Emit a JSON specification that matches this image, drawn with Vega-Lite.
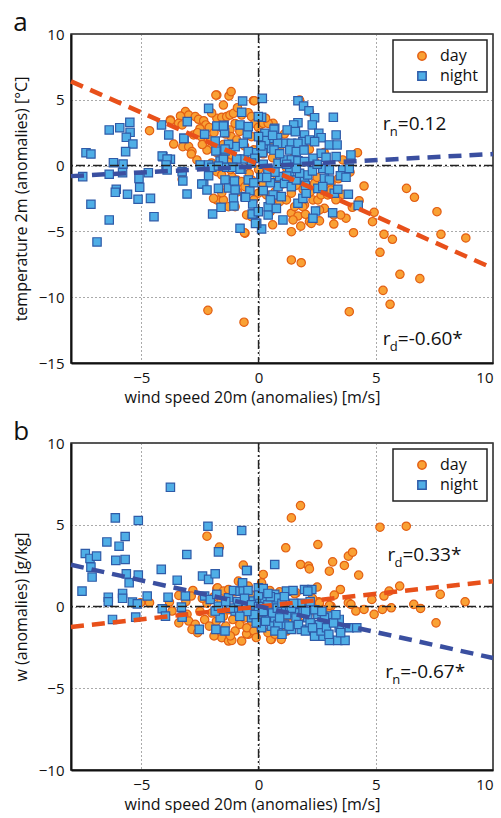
{
"$schema": "https://vega.github.io/schema/vega-lite/v6.json",
"background": "white",
"padding": {"left": 12, "top": 9, "right": 0, "bottom": 0},
"config": {
  "font": "Open Sans",
  "view": {"stroke": "#222", "strokeWidth": 1.5},
  "axis": {"labelFontSize": 15, "titleFontSize": 16, "titleFontWeight": "normal", "labelColor": "#111", "titleColor": "#111", "domainColor": "#111", "domainWidth": 2, "ticks": false, "gridColor": "#555", "gridDash": [1, 3], "gridWidth": 1, "labelPadding": 7},
  "axisY": {"titlePadding": 9},
  "legend": {"orient": "top-right", "offset": 6, "padding": 8, "strokeColor": "#222", "fillColor": "white", "labelFontSize": 16, "symbolSize": 70, "rowPadding": 4, "symbolOffset": 13, "labelOffset": 10, "cornerRadius": 0, "strokeWidth": 1.5, "labelColor": "#111"},
  "title": {"fontSize": 26, "fontWeight": "normal", "anchor": "start", "frame": "bounds", "color": "#111", "offset": -9},
  "concat": {"spacing": 12}
},
"datasets": {
  "a_pts": [
    {"p":"day","x":1.4,"y":-7.17},{"p":"day","x":1.82,"y":-7.38},{"p":"day","x":-2.16,"y":-11.0},{"p":"day","x":-0.62,"y":-11.9},{"p":"day","x":3.87,"y":-11.1},{"p":"day","x":5.18,"y":-6.59},{"p":"day","x":5.71,"y":-5.6},{"p":"day","x":6.03,"y":-8.26},{"p":"day","x":5.31,"y":-9.48},{"p":"day","x":5.61,"y":-10.54},{"p":"day","x":6.88,"y":-8.59},{"p":"day","x":8.84,"y":-5.5},
    {"p":"day","x":6.31,"y":-1.73},{"p":"day","x":6.65,"y":-2.41},{"p":"day","x":7.61,"y":-3.5},{"p":"day","x":7.78,"y":-5.22},{"p":"day","x":5.35,"y":-5.22},{"p":"day","x":4.93,"y":-3.55},{"p":"day","x":4.05,"y":-5.1},{"p":"day","x":4.5,"y":-1.55},{"p":"day","x":4.22,"y":0.98},{"p":"day","x":4.29,"y":-2.67},{"p":"day","x":3.73,"y":-4.0},{"p":"day","x":3.21,"y":-3.75},
    {"p":"day","x":1.75,"y":4.98},{"p":"day","x":2.17,"y":4.1},{"p":"day","x":4.86,"y":-4.26},{"p":"day","x":4.0,"y":-3.17},{"p":"day","x":3.5,"y":-3.75},{"p":"day","x":3.21,"y":-4.44},{"p":"day","x":2.81,"y":-3.25},{"p":"day","x":2.6,"y":-3.37},{"p":"day","x":2.32,"y":-2.61},{"p":"day","x":2.53,"y":-2.61},{"p":"day","x":3.09,"y":-1.35},{"p":"day","x":2.39,"y":-1.35},{"p":"day","x":2.67,"y":-2.23},{"p":"day","x":2.95,"y":-2.23},{"p":"day","x":1.4,"y":-5.02},{"p":"day","x":1.4,"y":-3.62},{"p":"day","x":1.68,"y":-3.83},{"p":"day","x":1.47,"y":-4.13},{"p":"day","x":2.17,"y":-4.26},{"p":"day","x":2.25,"y":-4.39},{"p":"day","x":1.96,"y":-2.99},{"p":"day","x":1.89,"y":-3.12},{"p":"day","x":0.9,"y":-2.74},{"p":"day","x":1.19,"y":-2.61},{"p":"day","x":1.54,"y":-3.12},{"p":"day","x":0.62,"y":3.21},{"p":"day","x":2.17,"y":1.24},{"p":"day","x":3.59,"y":0.43},{"p":"day","x":3.09,"y":-1.85},{"p":"day","x":1.4,"y":-2.1},
    {"p":"day","x":-1.78,"y":5.36},{"p":"day","x":-1.26,"y":5.29},{"p":"day","x":-1.17,"y":5.62},{"p":"day","x":-0.22,"y":4.93},{"p":"day","x":-3.12,"y":4.1},{"p":"day","x":-2.98,"y":3.84},{"p":"day","x":-3.33,"y":3.77},{"p":"day","x":-3.76,"y":3.47},{"p":"day","x":-3.41,"y":3.21},{"p":"day","x":-3.26,"y":3.09},{"p":"day","x":-2.7,"y":3.72},{"p":"day","x":-2.56,"y":3.52},{"p":"day","x":-2.34,"y":3.41},{"p":"day","x":-2.25,"y":3.09},{"p":"day","x":-1.78,"y":3.59},{"p":"day","x":-1.57,"y":3.67},{"p":"day","x":-1.36,"y":3.72},{"p":"day","x":-1.22,"y":3.84},{"p":"day","x":-1.07,"y":3.97},{"p":"day","x":-0.72,"y":3.84},{"p":"day","x":-0.44,"y":4.02},{"p":"day","x":-0.3,"y":3.72},{"p":"day","x":-0.16,"y":3.21},{"p":"day","x":-0.01,"y":2.91},{"p":"day","x":0.2,"y":3.21},{"p":"day","x":0.41,"y":3.21},
    {"p":"day","x":-3.62,"y":1.64},{"p":"day","x":-3.23,"y":1.44},{"p":"day","x":-2.98,"y":1.44},{"p":"day","x":-2.84,"y":1.06},{"p":"day","x":-2.63,"y":0.43},{"p":"day","x":-2.77,"y":2.33},{"p":"day","x":-2.44,"y":2.2},{"p":"day","x":-2.13,"y":2.0},{"p":"day","x":-2.06,"y":1.31},{"p":"day","x":-2.2,"y":1.18},{"p":"day","x":-1.22,"y":2.71},{"p":"day","x":-1.17,"y":2.2},{"p":"day","x":-0.93,"y":1.95},{"p":"day","x":-1.14,"y":0.81},{"p":"day","x":-0.97,"y":0.43},{"p":"day","x":-1.28,"y":0.22},{"p":"day","x":-1.78,"y":-0.46},{"p":"day","x":-1.57,"y":-0.71},{"p":"day","x":-1.14,"y":-0.84},{"p":"day","x":-0.93,"y":-1.09},{"p":"day","x":-0.72,"y":-1.22},{"p":"day","x":-0.58,"y":-1.6},{"p":"day","x":-0.3,"y":-1.09},{"p":"day","x":-1.78,"y":-2.61},{"p":"day","x":-1.5,"y":-2.61},{"p":"day","x":-1.28,"y":-3.12},{"p":"day","x":-1.0,"y":-3.12},{"p":"day","x":-0.51,"y":-3.75},{"p":"day","x":-0.3,"y":-3.88},{"p":"day","x":-0.58,"y":-5.14},{"p":"day","x":-0.01,"y":-2.1},{"p":"day","x":0.34,"y":-2.23},
    {"p":"day","x":-4.65,"y":2.65},{"p":"day","x":-3.76,"y":3.41},{"p":"day","x":-2.87,"y":0.88},{"p":"day","x":-3.26,"y":-1.04},{"p":"day","x":-1.82,"y":5.36},{"p":"day","x":-0.18,"y":4.93},{"p":"day","x":-0.6,"y":-5.1},{"p":"day","x":-1.92,"y":-2.49},{"p":"day","x":-1.57,"y":-2.06},
    {"p":"day","x":-2.5,"y":2.8},{"p":"day","x":-2.1,"y":2.9},{"p":"day","x":-1.9,"y":2.5},{"p":"day","x":-1.6,"y":2.9},{"p":"day","x":-1.4,"y":2.4},{"p":"day","x":-1.0,"y":3.2},{"p":"day","x":-0.8,"y":2.6},{"p":"day","x":-0.5,"y":2.9},{"p":"day","x":-0.3,"y":2.2},{"p":"day","x":0.1,"y":2.5},{"p":"day","x":0.3,"y":2.0},{"p":"day","x":0.5,"y":1.6},{"p":"day","x":-0.6,"y":1.5},{"p":"day","x":-0.2,"y":1.2},{"p":"day","x":0.2,"y":0.9},{"p":"day","x":0.6,"y":0.6},{"p":"day","x":-1.5,"y":1.6},{"p":"day","x":-1.8,"y":1.0},{"p":"day","x":-2.4,"y":1.6},{"p":"day","x":-2.6,"y":2.5},{"p":"day","x":-0.4,"y":0.3},{"p":"day","x":0.0,"y":-0.3},{"p":"day","x":0.4,"y":-0.5},{"p":"day","x":0.8,"y":-0.9},{"p":"day","x":1.0,"y":-1.4},{"p":"day","x":1.3,"y":-0.9},{"p":"day","x":1.6,"y":-1.5},{"p":"day","x":1.9,"y":-1.8},{"p":"day","x":2.2,"y":-2.0},{"p":"day","x":0.7,"y":-2.0},{"p":"day","x":0.2,"y":-1.4},{"p":"day","x":-0.4,"y":-0.6},{"p":"day","x":-1.2,"y":-0.3},{"p":"day","x":-2.0,"y":0.2},{"p":"day","x":-1.6,"y":0.6},{"p":"day","x":0.9,"y":0.2},{"p":"day","x":1.2,"y":-0.2},{"p":"day","x":1.8,"y":-0.6},{"p":"day","x":2.5,"y":-0.9},{"p":"day","x":3.3,"y":-2.6},{"p":"day","x":3.6,"y":-2.2},{"p":"day","x":2.0,"y":-3.7},{"p":"day","x":0.5,"y":-3.5},{"p":"day","x":-0.2,"y":-2.6},{"p":"day","x":-0.9,"y":-2.0},{"p":"day","x":-1.3,"y":-1.6},{"p":"day","x":0.9,"y":1.4},{"p":"day","x":1.1,"y":2.4},{"p":"day","x":0.3,"y":3.6},{"p":"day","x":-0.9,"y":4.4},{"p":"day","x":-1.5,"y":4.6},{"p":"day","x":-2.0,"y":4.0},{"p":"day","x":1.5,"y":0.6},{"p":"day","x":2.4,"y":0.3},{"p":"day","x":2.8,"y":1.0},{"p":"day","x":3.9,"y":-0.5},{"p":"day","x":3.4,"y":-1.0},{"p":"day","x":0.6,"y":-4.5},{"p":"day","x":1.8,"y":-4.6},{"p":"day","x":2.6,"y":-4.2},
    {"p":"night","x":-6.37,"y":2.71},{"p":"night","x":-5.92,"y":2.88},{"p":"night","x":-5.49,"y":3.29},{"p":"night","x":-5.48,"y":2.53},{"p":"night","x":-5.64,"y":2.15},{"p":"night","x":-5.36,"y":1.64},{"p":"night","x":-5.67,"y":1.06},{"p":"night","x":-7.36,"y":0.98},{"p":"night","x":-7.15,"y":0.88},{"p":"night","x":-6.19,"y":0.22},{"p":"night","x":-5.78,"y":0.12},{"p":"night","x":-6.37,"y":-0.66},{"p":"night","x":-7.5,"y":-0.84},{"p":"night","x":-5.8,"y":-0.54},{"p":"night","x":-5.1,"y":-0.97},{"p":"night","x":-6.07,"y":-1.8},{"p":"night","x":-6.11,"y":-2.03},{"p":"night","x":-5.59,"y":-2.18},{"p":"night","x":-5.07,"y":-1.65},{"p":"night","x":-5.14,"y":-2.56},{"p":"night","x":-4.61,"y":-2.49},{"p":"night","x":-7.15,"y":-2.94},{"p":"night","x":-6.37,"y":-4.13},{"p":"night","x":-6.89,"y":-5.8},{"p":"night","x":-4.46,"y":-3.88},{"p":"night","x":-4.7,"y":-0.54},{"p":"night","x":-4.08,"y":0.68},{"p":"night","x":-3.93,"y":0.05},{"p":"night","x":-3.76,"y":0.48},{"p":"night","x":-3.83,"y":2.33},{"p":"night","x":-4.14,"y":3.09},{"p":"night","x":-3.04,"y":3.34},{"p":"night","x":-3.18,"y":2.07},{"p":"night","x":-3.05,"y":-2.16},{"p":"night","x":-2.49,"y":0.05},{"p":"night","x":-2.13,"y":4.35},{"p":"night","x":-2.13,"y":0.05},{"p":"night","x":-2.34,"y":-1.4},{"p":"night","x":-2.13,"y":-0.77},{"p":"night","x":-1.96,"y":-3.68},{"p":"night","x":-1.6,"y":-3.17},{"p":"night","x":-1.78,"y":3.01},{"p":"night","x":-1.85,"y":1.87},{"p":"night","x":-1.82,"y":1.11},{"p":"night","x":-1.43,"y":1.11},{"p":"night","x":-1.47,"y":3.06},{"p":"night","x":-1.45,"y":2.5},{"p":"night","x":-1.43,"y":-1.09},{"p":"night","x":-1.28,"y":-1.7},{"p":"night","x":-1.0,"y":-1.85},{"p":"night","x":-1.07,"y":-2.49},{"p":"night","x":-1.05,"y":-3.07},{"p":"night","x":-0.79,"y":-4.76},{"p":"night","x":-0.68,"y":4.91},{"p":"night","x":-0.72,"y":4.05},{"p":"night","x":-0.79,"y":3.09},{"p":"night","x":-0.48,"y":2.4},{"p":"night","x":-0.65,"y":1.69},{"p":"night","x":-1.0,"y":1.44},{"p":"night","x":-0.62,"y":0.5},{"p":"night","x":-0.93,"y":0.5},{"p":"night","x":-0.72,"y":-0.28},{"p":"night","x":-0.44,"y":-1.09},{"p":"night","x":-0.58,"y":-2.36},{"p":"night","x":-0.25,"y":-2.92},{"p":"night","x":-0.22,"y":-3.68},{"p":"night","x":0.13,"y":3.67},{"p":"night","x":-0.01,"y":3.72},{"p":"night","x":0.16,"y":5.11},{"p":"night","x":0.13,"y":-4.82},{"p":"night","x":-0.08,"y":-4.38},{"p":"night","x":0.41,"y":-3.75},{"p":"night","x":0.41,"y":-3.12},{"p":"night","x":0.69,"y":2.83},{"p":"night","x":0.55,"y":2.07},
    {"p":"night","x":-1.5,"y":3.01},{"p":"night","x":-0.44,"y":2.96},{"p":"night","x":-2.3,"y":2.38},{"p":"night","x":0.81,"y":2.12},{"p":"night","x":-3.19,"y":2.07},{"p":"night","x":-1.28,"y":1.62},{"p":"night","x":-1.43,"y":1.26},{"p":"night","x":0.27,"y":1.57},{"p":"night","x":0.55,"y":1.31},{"p":"night","x":-0.08,"y":0.98},{"p":"night","x":0.17,"y":0.98},{"p":"night","x":-0.44,"y":1.06},{"p":"night","x":-1.64,"y":0.35},{"p":"night","x":-1.5,"y":0.48},{"p":"night","x":-0.16,"y":0.55},{"p":"night","x":-4.11,"y":0.73},{"p":"night","x":-3.9,"y":0.5},{"p":"night","x":-3.94,"y":0.05},{"p":"night","x":-3.9,"y":-0.33},{"p":"night","x":-3.26,"y":-0.46},{"p":"night","x":-3.23,"y":-1.17},{"p":"night","x":-1.99,"y":-0.13},{"p":"night","x":-1.71,"y":-0.03},{"p":"night","x":-1.36,"y":-0.13},{"p":"night","x":-1.1,"y":-0.13},{"p":"night","x":-0.79,"y":-0.28},{"p":"night","x":-1.03,"y":-1.17},{"p":"night","x":-2.42,"y":-1.4},{"p":"night","x":-2.2,"y":-1.85},{"p":"night","x":-1.71,"y":-1.73},{"p":"night","x":-0.37,"y":-1.91},{"p":"night","x":-0.55,"y":-2.41},{"p":"night","x":-0.27,"y":-3.68},{"p":"night","x":-0.01,"y":-3.5},{"p":"night","x":-0.13,"y":-4.39},{"p":"night","x":0.27,"y":2.45},{"p":"night","x":0.83,"y":0.17},{"p":"night","x":0.9,"y":-0.84},{"p":"night","x":0.83,"y":-1.6},{"p":"night","x":0.62,"y":-2.23},{"p":"night","x":0.76,"y":-3.25},
    {"p":"night","x":1.68,"y":4.93},{"p":"night","x":1.92,"y":4.53},{"p":"night","x":2.15,"y":4.17},{"p":"night","x":2.39,"y":3.64},{"p":"night","x":3.19,"y":3.67},{"p":"night","x":2.29,"y":3.09},{"p":"night","x":1.68,"y":3.26},{"p":"night","x":1.5,"y":3.09},{"p":"night","x":1.22,"y":2.71},{"p":"night","x":1.57,"y":2.58},{"p":"night","x":0.66,"y":2.76},{"p":"night","x":2.57,"y":2.45},{"p":"night","x":2.67,"y":2.12},{"p":"night","x":3.31,"y":2.33},{"p":"night","x":1.96,"y":2.33},{"p":"night","x":1.89,"y":1.82},{"p":"night","x":2.17,"y":1.95},{"p":"night","x":2.39,"y":1.82},{"p":"night","x":3.02,"y":1.57},{"p":"night","x":3.35,"y":1.57},{"p":"night","x":1.11,"y":1.69},{"p":"night","x":1.4,"y":1.69},{"p":"night","x":1.68,"y":1.69},{"p":"night","x":0.81,"y":1.69},{"p":"night","x":0.66,"y":1.18},{"p":"night","x":1.33,"y":1.18},{"p":"night","x":1.61,"y":1.06},{"p":"night","x":1.94,"y":1.18},{"p":"night","x":2.67,"y":0.93},{"p":"night","x":2.88,"y":0.63},{"p":"night","x":3.31,"y":0.68},{"p":"night","x":3.94,"y":0.81},{"p":"night","x":2.32,"y":0.55},{"p":"night","x":1.11,"y":0.43},{"p":"night","x":1.4,"y":0.43},{"p":"night","x":1.68,"y":0.37},{"p":"night","x":1.96,"y":0.3},{"p":"night","x":2.74,"y":-0.21},{"p":"night","x":3.02,"y":-0.33},{"p":"night","x":3.59,"y":-0.33},{"p":"night","x":3.87,"y":-0.21},{"p":"night","x":3.49,"y":-0.77},{"p":"night","x":3.73,"y":-0.89},{"p":"night","x":2.81,"y":-0.97},{"p":"night","x":3.02,"y":-1.09},{"p":"night","x":2.53,"y":-1.73},{"p":"night","x":2.74,"y":-1.6},{"p":"night","x":3.23,"y":-2.1},{"p":"night","x":3.38,"y":-1.8},{"p":"night","x":3.83,"y":-2.18},{"p":"night","x":4.25,"y":-3.02},{"p":"night","x":3.16,"y":-3.58},{"p":"night","x":2.43,"y":-3.45},{"p":"night","x":2.32,"y":-4.0},{"p":"night","x":1.68,"y":-2.86},{"p":"night","x":1.89,"y":-2.49},{"p":"night","x":2.03,"y":-2.1},{"p":"night","x":1.04,"y":-4.13},{"p":"night","x":1.11,"y":-1.35},{"p":"night","x":1.4,"y":-1.6},{"p":"night","x":1.61,"y":-1.09},{"p":"night","x":0.97,"y":-2.36},{"p":"night","x":1.96,"y":-1.09},{"p":"night","x":2.1,"y":-0.71},{"p":"night","x":1.75,"y":-0.58},{"p":"night","x":1.33,"y":-0.46},{"p":"night","x":1.61,"y":-0.21},
    {"p":"night","x":0.2,"y":0.1},{"p":"night","x":0.4,"y":-0.3},{"p":"night","x":0.1,"y":-0.9},{"p":"night","x":0.5,"y":-1.3},{"p":"night","x":0.3,"y":1.9},{"p":"night","x":0.6,"y":2.3},{"p":"night","x":0.1,"y":1.5},{"p":"night","x":0.9,"y":0.9},{"p":"night","x":1.2,"y":0.1},{"p":"night","x":0.2,"y":-1.9},{"p":"night","x":0.5,"y":-2.6},{"p":"night","x":-0.3,"y":0.2},{"p":"night","x":0.7,"y":-0.5},{"p":"night","x":1.2,"y":-0.8},{"p":"night","x":2.3,"y":-0.4},{"p":"night","x":2.5,"y":0.1},{"p":"night","x":2.0,"y":-1.5},{"p":"night","x":0.0,"y":2.2},{"p":"night","x":-0.2,"y":-1.3},{"p":"night","x":0.35,"y":-0.9}
  ],
  "b_pts": [
    {"p":"day","x":1.4,"y":5.42},{"p":"day","x":1.79,"y":6.17},{"p":"day","x":5.18,"y":4.85},{"p":"day","x":6.3,"y":4.91},{"p":"day","x":1.16,"y":3.59},{"p":"day","x":2.53,"y":3.79},{"p":"day","x":1.79,"y":2.57},{"p":"day","x":2.13,"y":2.47},{"p":"day","x":2.17,"y":2.3},{"p":"day","x":3.16,"y":2.73},{"p":"day","x":3.02,"y":2.16},{"p":"day","x":3.66,"y":2.51},{"p":"day","x":3.83,"y":3.08},{"p":"day","x":4.01,"y":3.32},{"p":"day","x":4.27,"y":1.92},{"p":"day","x":3.49,"y":1.04},{"p":"day","x":3.23,"y":0.7},{"p":"day","x":2.56,"y":0.29},{"p":"day","x":3.09,"y":0.02},{"p":"day","x":2.92,"y":-0.18},{"p":"day","x":2.74,"y":-0.18},{"p":"day","x":3.83,"y":0.23},{"p":"day","x":3.94,"y":0.13},{"p":"day","x":4.15,"y":-0.28},{"p":"day","x":4.5,"y":-0.18},{"p":"day","x":4.93,"y":-0.48},{"p":"day","x":4.83,"y":0.43},{"p":"day","x":5.28,"y":-0.18},{"p":"day","x":5.66,"y":-0.08},{"p":"day","x":5.35,"y":0.64},{"p":"day","x":5.57,"y":0.94},{"p":"day","x":6.02,"y":1.25},{"p":"day","x":6.62,"y":0.13},{"p":"day","x":6.91,"y":-0.12},{"p":"day","x":7.57,"y":-1.0},{"p":"day","x":7.75,"y":0.74},{"p":"day","x":8.81,"y":0.29},{"p":"day","x":2.5,"y":1.19},{"p":"day","x":1.61,"y":0.84},{"p":"day","x":0.55,"y":-2.01},{"p":"day","x":0.97,"y":-2.01},{"p":"day","x":0.2,"y":1.96},{"p":"day","x":0.13,"y":1.35},{"p":"day","x":-0.44,"y":-1.7},{"p":"day","x":2.17,"y":-1.4},{"p":"day","x":1.54,"y":0.78},{"p":"day","x":2.6,"y":0.23},{"p":"day","x":3.02,"y":0.07},
    {"p":"day","x":-2.2,"y":4.3},{"p":"day","x":-1.67,"y":3.63},{"p":"day","x":-0.65,"y":2.53},{"p":"day","x":-2.8,"y":0.98},{"p":"day","x":-2.87,"y":0.64},{"p":"day","x":-3.4,"y":0.68},{"p":"day","x":-3.8,"y":0.27},{"p":"day","x":-4.65,"y":0.23},{"p":"day","x":-3.69,"y":-0.28},{"p":"day","x":-3.26,"y":-0.59},{"p":"day","x":-3.05,"y":-0.48},{"p":"day","x":-3.4,"y":-1.0},{"p":"day","x":-2.98,"y":-0.89},{"p":"day","x":-2.7,"y":-1.09},{"p":"day","x":-2.84,"y":-1.4},{"p":"day","x":-1.57,"y":-1.91},{"p":"day","x":-1.28,"y":-2.11},{"p":"day","x":-1.14,"y":-2.07},{"p":"day","x":-0.72,"y":-2.11},{"p":"day","x":-0.51,"y":-1.67},{"p":"day","x":0.52,"y":-2.01},{"p":"day","x":-1.78,"y":1.1},{"p":"day","x":-0.86,"y":1.55},{"p":"day","x":-0.65,"y":1.25},{"p":"day","x":0.13,"y":1.45},{"p":"day","x":0.2,"y":0.94},{"p":"day","x":0.48,"y":0.98},{"p":"day","x":0.3,"y":0.49},{"p":"day","x":-5.03,"y":0.23},{"p":"day","x":-1.75,"y":1.14},{"p":"day","x":-1.5,"y":0.94},{"p":"day","x":-1.28,"y":1.04},{"p":"day","x":-1.0,"y":0.9},{"p":"day","x":-0.72,"y":1.45},{"p":"day","x":-0.44,"y":1.25},
    {"p":"day","x":-2.5,"y":-0.3},{"p":"day","x":-2.3,"y":-0.8},{"p":"day","x":-2.1,"y":-1.2},{"p":"day","x":-2.0,"y":-0.4},{"p":"day","x":-1.8,"y":-0.9},{"p":"day","x":-1.7,"y":-1.5},{"p":"day","x":-1.5,"y":-0.6},{"p":"day","x":-1.4,"y":-1.2},{"p":"day","x":-1.3,"y":-0.2},{"p":"day","x":-1.1,"y":-0.8},{"p":"day","x":-1.0,"y":-1.5},{"p":"day","x":-0.9,"y":-0.4},{"p":"day","x":-0.8,"y":-1.1},{"p":"day","x":-0.6,"y":-0.7},{"p":"day","x":-0.5,"y":-1.3},{"p":"day","x":-0.4,"y":-0.2},{"p":"day","x":-0.3,"y":-0.9},{"p":"day","x":-0.2,"y":-1.5},{"p":"day","x":0.0,"y":-0.5},{"p":"day","x":0.1,"y":-1.1},{"p":"day","x":0.3,"y":-0.3},{"p":"day","x":0.4,"y":-1.6},{"p":"day","x":0.6,"y":-0.8},{"p":"day","x":0.8,"y":-0.3},{"p":"day","x":0.9,"y":-1.2},{"p":"day","x":1.1,"y":-0.6},{"p":"day","x":1.3,"y":-1.0},{"p":"day","x":1.5,"y":-0.2},{"p":"day","x":1.7,"y":-0.9},{"p":"day","x":1.9,"y":0.1},{"p":"day","x":2.1,"y":-0.5},{"p":"day","x":2.3,"y":0.5},{"p":"day","x":-2.2,"y":0.2},{"p":"day","x":-1.6,"y":0.3},{"p":"day","x":-0.7,"y":0.2},{"p":"day","x":0.5,"y":0.2},{"p":"day","x":1.0,"y":0.4},{"p":"day","x":-2.6,"y":-1.6},{"p":"day","x":-1.9,"y":-1.8},{"p":"day","x":-0.1,"y":-1.9},{"p":"day","x":0.7,"y":-1.7},{"p":"day","x":1.2,"y":-1.5},{"p":"day","x":-1.2,"y":-1.8},{"p":"day","x":-2.4,"y":0.5},{"p":"day","x":-3.1,"y":0.3},{"p":"day","x":-0.3,"y":0.7},{"p":"day","x":0.9,"y":0.9},{"p":"day","x":-1.9,"y":0.6},
    {"p":"night","x":-3.76,"y":7.29},{"p":"night","x":-6.11,"y":5.42},{"p":"night","x":-5.13,"y":5.26},{"p":"night","x":-2.16,"y":4.91},{"p":"night","x":-0.72,"y":4.65},{"p":"night","x":-6.47,"y":3.95},{"p":"night","x":-5.69,"y":4.28},{"p":"night","x":-5.95,"y":3.69},{"p":"night","x":-7.39,"y":3.24},{"p":"night","x":-7.19,"y":2.94},{"p":"night","x":-6.91,"y":3.08},{"p":"night","x":-6.09,"y":2.82},{"p":"night","x":-5.69,"y":2.88},{"p":"night","x":-7.15,"y":2.41},{"p":"night","x":-7.1,"y":1.8},{"p":"night","x":-5.64,"y":2.0},{"p":"night","x":-5.13,"y":1.92},{"p":"night","x":-5.52,"y":1.45},{"p":"night","x":-4.15,"y":2.27},{"p":"night","x":-3.47,"y":1.61},{"p":"night","x":-3.06,"y":3.18},{"p":"night","x":-1.71,"y":3.34},{"p":"night","x":-7.53,"y":0.94},{"p":"night","x":-6.41,"y":0.57},{"p":"night","x":-6.41,"y":0.29},{"p":"night","x":-5.8,"y":0.8},{"p":"night","x":-5.8,"y":0.5},{"p":"night","x":-5.38,"y":0.27},{"p":"night","x":-5.17,"y":0.16},{"p":"night","x":-4.75,"y":0.64},{"p":"night","x":-6.23,"y":-0.79},{"p":"night","x":-5.24,"y":-0.65},{"p":"night","x":-4.11,"y":-0.14},{"p":"night","x":-3.97,"y":-0.59},{"p":"night","x":-3.86,"y":0.57},{"p":"night","x":-3.29,"y":-0.04},{"p":"night","x":-3.26,"y":-0.65},{"p":"night","x":-2.53,"y":-1.4},{"p":"night","x":-2.39,"y":1.86},{"p":"night","x":-2.13,"y":1.66},{"p":"night","x":-1.85,"y":2.0},{"p":"night","x":-2.3,"y":0.64},{"p":"night","x":-2.06,"y":0.43},{"p":"night","x":-1.78,"y":0.74},{"p":"night","x":-1.28,"y":0.53},{"p":"night","x":-1.07,"y":0.98},{"p":"night","x":-0.79,"y":0.94},{"p":"night","x":-1.82,"y":-1.4},{"p":"night","x":-1.43,"y":-1.5},{"p":"night","x":-1.64,"y":-0.69},{"p":"night","x":-1.85,"y":-0.28},{"p":"night","x":-1.71,"y":0.02},{"p":"night","x":-1.0,"y":-0.28},{"p":"night","x":-0.72,"y":-0.28},{"p":"night","x":-0.51,"y":-0.12},{"p":"night","x":-0.68,"y":1.45},{"p":"night","x":-0.48,"y":2.2},{"p":"night","x":-0.65,"y":0.94},{"p":"night","x":-0.45,"y":0.98},{"p":"night","x":-0.01,"y":1.14},{"p":"night","x":0.13,"y":-1.2},{"p":"night","x":0.69,"y":2.57},{"p":"night","x":-0.22,"y":0.33},{"p":"night","x":-0.01,"y":0.43},{"p":"night","x":0.27,"y":0.43},{"p":"night","x":0.55,"y":0.33},{"p":"night","x":0.69,"y":0.74},{"p":"night","x":0.34,"y":-0.69},{"p":"night","x":0.69,"y":-0.73},{"p":"night","x":0.55,"y":-1.2},{"p":"night","x":0.83,"y":-1.26},{"p":"night","x":-0.51,"y":2.2},{"p":"night","x":-3.12,"y":0.64},
    {"p":"night","x":1.96,"y":1.04},{"p":"night","x":2.27,"y":1.04},{"p":"night","x":2.74,"y":-1.81},{"p":"night","x":3.02,"y":-2.07},{"p":"night","x":3.38,"y":-2.07},{"p":"night","x":3.69,"y":-2.07},{"p":"night","x":3.87,"y":-1.3},{"p":"night","x":4.19,"y":-1.3},{"p":"night","x":3.44,"y":-1.3},{"p":"night","x":3.09,"y":-0.59},{"p":"night","x":3.44,"y":-0.79},{"p":"night","x":2.39,"y":-1.81},{"p":"night","x":2.67,"y":-1.5},{"p":"night","x":1.82,"y":-1.4},{"p":"night","x":1.4,"y":-1.4},{"p":"night","x":1.11,"y":-1.09},{"p":"night","x":0.83,"y":-1.09},{"p":"night","x":1.89,"y":-0.28},{"p":"night","x":2.1,"y":-0.69},{"p":"night","x":2.53,"y":-0.48},{"p":"night","x":2.81,"y":-0.69},{"p":"night","x":1.26,"y":-0.08},{"p":"night","x":1.54,"y":-0.38},{"p":"night","x":0.97,"y":-0.28},{"p":"night","x":0.69,"y":0.13},{"p":"night","x":0.83,"y":0.53},{"p":"night","x":1.19,"y":0.94},{"p":"night","x":1.47,"y":0.98},{"p":"night","x":0.13,"y":-0.89},{"p":"night","x":0.13,"y":-1.3},{"p":"night","x":-0.3,"y":-0.69},{"p":"night","x":2.1,"y":0.94},
    {"p":"night","x":-0.9,"y":0.3},{"p":"night","x":-0.6,"y":0.5},{"p":"night","x":-0.3,"y":0.1},{"p":"night","x":0.0,"y":0.0},{"p":"night","x":0.2,"y":-0.3},{"p":"night","x":0.4,"y":0.1},{"p":"night","x":0.6,"y":-0.4},{"p":"night","x":0.8,"y":-0.1},{"p":"night","x":1.0,"y":0.2},{"p":"night","x":1.2,"y":-0.5},{"p":"night","x":1.4,"y":-0.1},{"p":"night","x":1.6,"y":-0.7},{"p":"night","x":1.8,"y":0.2},{"p":"night","x":2.0,"y":-0.3},{"p":"night","x":2.2,"y":-1.0},{"p":"night","x":2.4,"y":-0.2},{"p":"night","x":2.6,"y":-1.1},{"p":"night","x":2.9,"y":-1.3},{"p":"night","x":3.2,"y":-1.0},{"p":"night","x":3.5,"y":-1.6},{"p":"night","x":0.3,"y":-0.9},{"p":"night","x":0.9,"y":-0.7},{"p":"night","x":1.3,"y":-1.2},{"p":"night","x":1.7,"y":-1.1},{"p":"night","x":2.0,"y":-1.5},{"p":"night","x":2.3,"y":-1.3},{"p":"night","x":-0.2,"y":-0.5},{"p":"night","x":-0.5,"y":-0.3},{"p":"night","x":-1.2,"y":-0.1},{"p":"night","x":-1.4,"y":0.3},{"p":"night","x":0.5,"y":0.6},{"p":"night","x":1.1,"y":0.6},{"p":"night","x":0.0,"y":0.7},{"p":"night","x":-0.1,"y":-1.0},{"p":"night","x":0.7,"y":-1.5},{"p":"night","x":1.0,"y":-1.7},{"p":"night","x":3.0,"y":-1.7},{"p":"night","x":3.3,"y":-0.5},{"p":"night","x":2.7,"y":-0.3},{"p":"night","x":0.2,"y":1.1},{"p":"night","x":0.4,"y":0.8},{"p":"night","x":-0.8,"y":-0.6},{"p":"night","x":1.5,"y":0.2},{"p":"night","x":2.2,"y":0.3}
  ],
  "a_lines": [
    {"p":"day","x":-8,"y":6.4},{"p":"day","x":10,"y":-7.8},
    {"p":"night","x":-8,"y":-0.8},{"p":"night","x":10,"y":0.88}
  ],
  "b_lines": [
    {"p":"day","x":-8,"y":-1.25},{"p":"day","x":10,"y":1.55},
    {"p":"night","x":-8,"y":2.55},{"p":"night","x":10,"y":-3.15}
  ]
},
"vconcat": [
  {
    "title": {"text": "a"},
    "width": 422,
    "height": 329,
    "layer": [
      {"data": {"name": "a_pts"}, "mark": {"type": "point", "filled": true, "size": 70, "strokeWidth": 1.2, "opacity": 1},
       "encoding": {
         "x": {"field": "x", "type": "quantitative", "scale": {"domain": [-8, 10], "nice": false, "zero": false}, "axis": {"values": [-5, 0, 5, 10], "title": "wind speed 20m (anomalies) [m/s]", "titleX": 181}},
         "y": {"field": "y", "type": "quantitative", "scale": {"domain": [-15, 10], "nice": false}, "axis": {"values": [-15, -10, -5, 0, 5, 10], "title": "temperature 2m (anomalies) [°C]"}},
         "fill": {"field": "p", "type": "nominal", "scale": {"domain": ["day", "night"], "range": ["#F9A134", "#4FAEE6"]}, "title": null},
         "stroke": {"field": "p", "type": "nominal", "scale": {"domain": ["day", "night"], "range": ["#E35F14", "#2F5BA8"]}, "title": null},
         "shape": {"field": "p", "type": "nominal", "scale": {"domain": ["day", "night"], "range": ["circle", "square"]}, "title": null}
       }},
      {"data": {"values": [{}]}, "mark": {"type": "rule", "color": "#222", "strokeWidth": 1.5, "strokeDash": [9, 3, 2, 3]}, "encoding": {"x": {"datum": 0, "type": "quantitative"}}},
      {"data": {"values": [{}]}, "mark": {"type": "rule", "color": "#222", "strokeWidth": 1.5, "strokeDash": [9, 3, 2, 3]}, "encoding": {"y": {"datum": 0, "type": "quantitative"}}},
      {"data": {"name": "a_lines"}, "transform": [{"filter": "datum.p === 'day'"}], "mark": {"type": "line", "color": "#E8501A", "strokeWidth": 4.5, "strokeDash": [13, 8]}, "encoding": {"x": {"field": "x", "type": "quantitative"}, "y": {"field": "y", "type": "quantitative"}}},
      {"data": {"name": "a_lines"}, "transform": [{"filter": "datum.p === 'night'"}], "mark": {"type": "line", "color": "#3A4FA0", "strokeWidth": 4.5, "strokeDash": [13, 8]}, "encoding": {"x": {"field": "x", "type": "quantitative"}, "y": {"field": "y", "type": "quantitative"}}},
      {"data": {"values": [{}]}, "mark": {"type": "text", "text": "r", "fontSize": 19, "align": "left", "baseline": "alphabetic", "color": "#111"}, "encoding": {"x": {"datum": 5.3, "type": "quantitative"}, "y": {"datum": 2.7, "type": "quantitative"}}},
      {"data": {"values": [{}]}, "mark": {"type": "text", "text": "n", "fontSize": 13, "align": "left", "baseline": "alphabetic", "dx": 7, "dy": 6, "color": "#111"}, "encoding": {"x": {"datum": 5.3, "type": "quantitative"}, "y": {"datum": 2.7, "type": "quantitative"}}},
      {"data": {"values": [{}]}, "mark": {"type": "text", "text": "=0.12", "fontSize": 19, "align": "left", "baseline": "alphabetic", "dx": 15, "color": "#111"}, "encoding": {"x": {"datum": 5.3, "type": "quantitative"}, "y": {"datum": 2.7, "type": "quantitative"}}},
      {"data": {"values": [{}]}, "mark": {"type": "text", "text": "r", "fontSize": 19, "align": "left", "baseline": "alphabetic", "color": "#111"}, "encoding": {"x": {"datum": 5.3, "type": "quantitative"}, "y": {"datum": -13.6, "type": "quantitative"}}},
      {"data": {"values": [{}]}, "mark": {"type": "text", "text": "d", "fontSize": 13, "align": "left", "baseline": "alphabetic", "dx": 7, "dy": 6, "color": "#111"}, "encoding": {"x": {"datum": 5.3, "type": "quantitative"}, "y": {"datum": -13.6, "type": "quantitative"}}},
      {"data": {"values": [{}]}, "mark": {"type": "text", "text": "=-0.60*", "fontSize": 19, "align": "left", "baseline": "alphabetic", "dx": 15, "color": "#111"}, "encoding": {"x": {"datum": 5.3, "type": "quantitative"}, "y": {"datum": -13.6, "type": "quantitative"}}}
    ]
  },
  {
    "title": {"text": "b"},
    "width": 422,
    "height": 327,
    "layer": [
      {"data": {"name": "b_pts"}, "mark": {"type": "point", "filled": true, "size": 70, "strokeWidth": 1.2, "opacity": 1},
       "encoding": {
         "x": {"field": "x", "type": "quantitative", "scale": {"domain": [-8, 10], "nice": false, "zero": false}, "axis": {"values": [-5, 0, 5, 10], "title": "wind speed 20m (anomalies) [m/s]", "titleX": 181}},
         "y": {"field": "y", "type": "quantitative", "scale": {"domain": [-10, 10], "nice": false}, "axis": {"values": [-10, -5, 0, 5, 10], "title": "w (anomalies) [g/kg]"}},
         "fill": {"field": "p", "type": "nominal", "scale": {"domain": ["day", "night"], "range": ["#F9A134", "#4FAEE6"]}, "title": null},
         "stroke": {"field": "p", "type": "nominal", "scale": {"domain": ["day", "night"], "range": ["#E35F14", "#2F5BA8"]}, "title": null},
         "shape": {"field": "p", "type": "nominal", "scale": {"domain": ["day", "night"], "range": ["circle", "square"]}, "title": null}
       }},
      {"data": {"values": [{}]}, "mark": {"type": "rule", "color": "#222", "strokeWidth": 1.5, "strokeDash": [9, 3, 2, 3]}, "encoding": {"x": {"datum": 0, "type": "quantitative"}}},
      {"data": {"values": [{}]}, "mark": {"type": "rule", "color": "#222", "strokeWidth": 1.5, "strokeDash": [9, 3, 2, 3]}, "encoding": {"y": {"datum": 0, "type": "quantitative"}}},
      {"data": {"name": "b_lines"}, "transform": [{"filter": "datum.p === 'day'"}], "mark": {"type": "line", "color": "#E8501A", "strokeWidth": 4.5, "strokeDash": [13, 8]}, "encoding": {"x": {"field": "x", "type": "quantitative"}, "y": {"field": "y", "type": "quantitative"}}},
      {"data": {"name": "b_lines"}, "transform": [{"filter": "datum.p === 'night'"}], "mark": {"type": "line", "color": "#3A4FA0", "strokeWidth": 4.5, "strokeDash": [13, 8]}, "encoding": {"x": {"field": "x", "type": "quantitative"}, "y": {"field": "y", "type": "quantitative"}}},
      {"data": {"values": [{}]}, "mark": {"type": "text", "text": "r", "fontSize": 19, "align": "left", "baseline": "alphabetic", "color": "#111"}, "encoding": {"x": {"datum": 5.5, "type": "quantitative"}, "y": {"datum": 2.77, "type": "quantitative"}}},
      {"data": {"values": [{}]}, "mark": {"type": "text", "text": "d", "fontSize": 13, "align": "left", "baseline": "alphabetic", "dx": 7, "dy": 6, "color": "#111"}, "encoding": {"x": {"datum": 5.5, "type": "quantitative"}, "y": {"datum": 2.77, "type": "quantitative"}}},
      {"data": {"values": [{}]}, "mark": {"type": "text", "text": "=0.33*", "fontSize": 19, "align": "left", "baseline": "alphabetic", "dx": 15, "color": "#111"}, "encoding": {"x": {"datum": 5.5, "type": "quantitative"}, "y": {"datum": 2.77, "type": "quantitative"}}},
      {"data": {"values": [{}]}, "mark": {"type": "text", "text": "r", "fontSize": 19, "align": "left", "baseline": "alphabetic", "color": "#111"}, "encoding": {"x": {"datum": 5.4, "type": "quantitative"}, "y": {"datum": -4.37, "type": "quantitative"}}},
      {"data": {"values": [{}]}, "mark": {"type": "text", "text": "n", "fontSize": 13, "align": "left", "baseline": "alphabetic", "dx": 7, "dy": 6, "color": "#111"}, "encoding": {"x": {"datum": 5.4, "type": "quantitative"}, "y": {"datum": -4.37, "type": "quantitative"}}},
      {"data": {"values": [{}]}, "mark": {"type": "text", "text": "=-0.67*", "fontSize": 19, "align": "left", "baseline": "alphabetic", "dx": 15, "color": "#111"}, "encoding": {"x": {"datum": 5.4, "type": "quantitative"}, "y": {"datum": -4.37, "type": "quantitative"}}}
    ]
  }
],
"resolve": {"scale": {"fill": "independent", "stroke": "independent", "shape": "independent"}, "legend": {"fill": "independent", "stroke": "independent", "shape": "independent"}}
}
